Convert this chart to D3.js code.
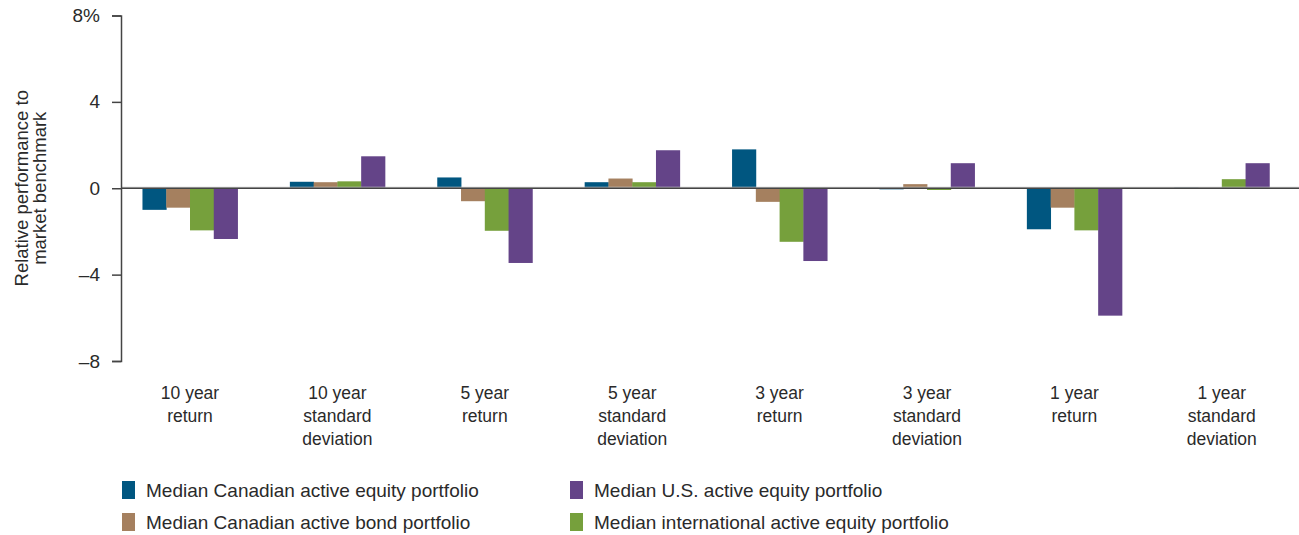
<!DOCTYPE html>
<html>
<head>
<meta charset="utf-8">
<script src="https://cdn.jsdelivr.net/npm/d3@7"></script>
<style>
  body { margin: 0; background: #fff; }
  svg text { font-family: "Liberation Sans", Arial, sans-serif; fill: #2a2a2a; }
</style>
</head>
<body>
<svg id="chart" width="1299" height="535"></svg>
<script>
const categories = ["10 year return", "10 year standard deviation", "5 year return", "5 year standard deviation",
  "3 year return", "3 year standard deviation", "1 year return", "1 year standard deviation"];
const categoryLines = [["10 year", "return"], ["10 year", "standard", "deviation"], ["5 year", "return"],
  ["5 year", "standard", "deviation"], ["3 year", "return"], ["3 year", "standard", "deviation"],
  ["1 year", "return"], ["1 year", "standard", "deviation"]];
const seriesNames = ["Median Canadian active equity portfolio", "Median Canadian active bond portfolio",
  "Median international active equity portfolio", "Median U.S. active equity portfolio"];
const canEquity = [-1.0, 0.3, 0.5, 0.28, 1.8, -0.05, -1.9, 0.03];
const canBond = [-0.9, 0.28, -0.6, 0.45, -0.63, 0.19, -0.9, 0.02];
const intlEquity = [-1.95, 0.32, -1.97, 0.28, -2.48, -0.08, -1.95, 0.42];
const usEquity = [-2.35, 1.48, -3.46, 1.76, -3.37, 1.16, -5.9, 1.16];
const yTicks = [-8, -4, 0, 4, 8];
const colors = ["#005680", "#a5805f", "#76a03c", "#644488"];

const series = [canEquity, canBond, intlEquity, usEquity];
const svg = d3.select("#chart");

const x0 = d3.scaleBand().domain(categories).range([116.3, 1295.5]).paddingInner(0.355).paddingOuter(0.1775);
const x1 = d3.scaleBand().domain(d3.range(4)).range([0, x0.bandwidth()]);
const y = d3.scaleLinear().domain([-8, 8]).range([361, 15.5]);

// bars
categories.forEach((c, i) => {
  svg.append("g")
    .attr("transform", `translate(${x0(c)},0)`)
    .selectAll("rect")
    .data(series.map(s => s[i]))
    .enter()
    .append("rect")
    .attr("x", (d, j) => x1(j))
    .attr("width", x1.bandwidth() + 0.4)
    .attr("y", d => y(Math.max(0, d)))
    .attr("height", d => Math.abs(y(d) - y(0)))
    .attr("fill", (d, j) => colors[j]);
});

// zero line
svg.append("line")
  .attr("x1", 121).attr("x2", 1299)
  .attr("y1", y(0) - 1).attr("y2", y(0) - 1)
  .attr("stroke", "#c8c8c8").attr("stroke-width", 1);
svg.append("line")
  .attr("x1", 121).attr("x2", 1299)
  .attr("y1", y(0)).attr("y2", y(0))
  .attr("stroke", "#444").attr("stroke-width", 1.5);

// y axis
const yAxis = d3.axisLeft(y).tickValues(yTicks).tickSize(9).tickPadding(12)
  .tickFormat(d => d === 8 ? "8%" : (d < 0 ? "\u2013" + Math.abs(d) : d));
const gy = svg.append("g").attr("transform", "translate(121,0)").call(yAxis);
gy.select(".domain").attr("stroke", "#444").attr("stroke-width", 1.5);
gy.selectAll(".tick line").attr("stroke", "#444").attr("stroke-width", 1.5);
gy.selectAll(".tick text").style("font-size", "19px").attr("fill", "#2a2a2a");

// y title
const yt = svg.append("text")
  .attr("transform", `translate(28,${y(0)}) rotate(-90)`)
  .attr("text-anchor", "middle")
  .style("font-size", "18.5px");
yt.append("tspan").attr("x", 0).attr("dy", 0).text("Relative performance to");
yt.append("tspan").attr("x", 0).attr("dy", 18).text("market benchmark");

// category labels
categories.forEach((c, i) => {
  const t = svg.append("text")
    .attr("text-anchor", "middle")
    .style("font-size", "17.5px");
  categoryLines[i].forEach((line, k) => {
    t.append("tspan")
      .attr("x", x0(c) + x0.bandwidth() / 2)
      .attr("y", 399 + k * 23)
      .text(line);
  });
});

// legend
const legendPos = [[122, 490], [122, 522], [570, 522], [570, 490]];
seriesNames.forEach((name, j) => {
  const [lx, ly] = legendPos[j];
  svg.append("rect")
    .attr("x", lx).attr("y", ly - 9).attr("width", 13).attr("height", 18)
    .attr("fill", colors[j]);
  svg.append("text")
    .attr("x", lx + 24).attr("y", ly + 6.5)
    .style("font-size", "19px")
    .text(name);
});
</script>
</body>
</html>
